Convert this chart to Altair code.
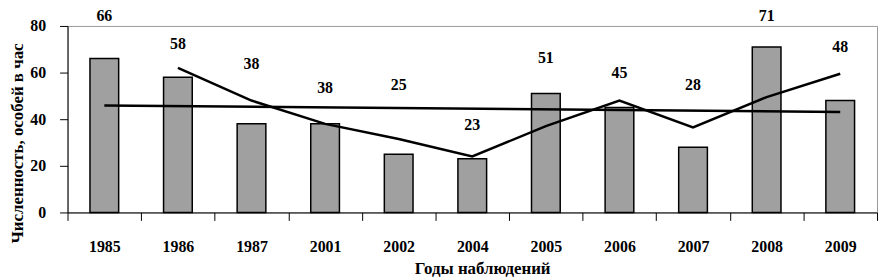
import altair as alt
import pandas as pd

years = ["1985", "1986", "1987", "2001", "2002", "2004", "2005", "2006", "2007", "2008", "2009"]
counts = [66, 58, 38, 38, 25, 23, 51, 45, 28, 71, 48]
# heights (in data units) where the value labels sit in the picture
label_pos = [84.4, 72.3, 63.8, 53.2, 54.5, 37.4, 66.4, 60.0, 54.5, 84.2, 71.1]
ma_years = ["1986", "1987", "2001", "2002", "2004", "2005", "2006", "2007", "2008", "2009"]
ma_values = [62, 48, 38, 31.5, 24, 37, 48, 36.5, 49.5, 59.5]
trend_years = ["1985", "2009"]
trend_values = [45.9, 43.1]

FONT = "'Liberation Serif', 'DejaVu Serif', serif"

bars_df = pd.DataFrame({"year": years, "count": counts, "lab": label_pos})
ma_df = pd.DataFrame({"year": ma_years, "v": ma_values})
tr_df = pd.DataFrame({"year": trend_years, "v": trend_values})

xscale = alt.Scale(domain=years, paddingInner=0, paddingOuter=0)
yscale = alt.Scale(domain=[0, 80], nice=False)

xenc = alt.X("year:O", scale=xscale, sort=years,
             axis=alt.Axis(title="Годы наблюдений", labelAngle=0, tickBand="extent",
                           tickSize=8, labelPadding=18,
                           titleBaseline="alphabetic", titleY=62, titleX=418,
                           titleFontSize=17))

bars = alt.Chart(bars_df).mark_bar(
    width=alt.RelativeBandSize(0.39), color="#a0a0a0", stroke="black", strokeWidth=1.5
).encode(
    x=xenc,
    y=alt.Y("count:Q", scale=yscale,
            axis=alt.Axis(title="Численность, особей в час", values=[0, 20, 40, 60, 80],
                          grid=False, tickSize=8, labelPadding=14,
                          titleAngle=-90, titleX=-50, titleY=118, titleBaseline="middle",
                          titleAlign="center", titleFontSize=17)),
)

labels = alt.Chart(bars_df).mark_text(
    font=FONT, fontWeight="bold", fontSize=16, color="black", baseline="middle"
).encode(
    x=alt.X("year:O", scale=xscale, sort=years),
    y=alt.Y("lab:Q", scale=yscale),
    text=alt.Text("count:Q"),
)

ma = alt.Chart(ma_df).mark_line(color="black", strokeWidth=2.5).encode(
    x=alt.X("year:O", scale=xscale, sort=years),
    y=alt.Y("v:Q", scale=yscale),
)

trend = alt.Chart(tr_df).mark_line(color="black", strokeWidth=2.5).encode(
    x=alt.X("year:O", scale=xscale, sort=years),
    y=alt.Y("v:Q", scale=yscale),
)

chart = alt.layer(bars, trend, ma, labels).properties(
    width=816, height=188,
    autosize=alt.AutoSizeParams(type="none"),
    padding={"left": 60, "top": 17, "right": 2, "bottom": 66},
    background="white",
).configure_view(
    stroke="#999999", strokeWidth=1
).configure_axis(
    domainColor="black", tickColor="black", domainWidth=1, tickWidth=1,
    labelFont=FONT, labelFontWeight="bold", labelFontSize=16, labelColor="black",
    titleFont=FONT, titleFontWeight="bold", titleFontSize=16, titleColor="black",
)

chart.save("out.html", embed_options={"renderer": "svg", "actions": False})
